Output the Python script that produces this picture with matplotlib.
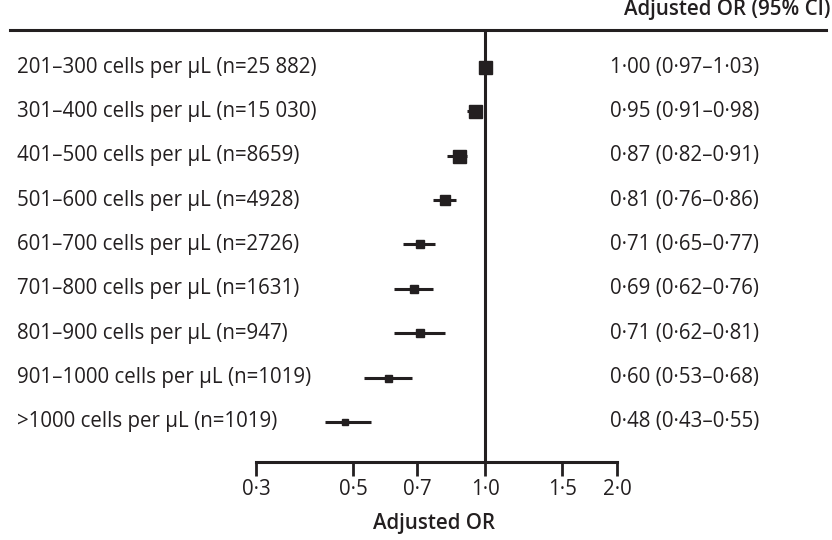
import numpy as np
import matplotlib.pyplot as plt
import matplotlib.ticker as mticker
from matplotlib.transforms import blended_transform_factory

# data
groups = ["201–300 cells per µL (n=25 882)",
          "301–400 cells per µL (n=15 030)",
          "401–500 cells per µL (n=8659)",
          "501–600 cells per µL (n=4928)",
          "601–700 cells per µL (n=2726)",
          "701–800 cells per µL (n=1631)",
          "801–900 cells per µL (n=947)",
          "901–1000 cells per µL (n=1019)",
          ">1000 cells per µL (n=1019)"]
or_est = [1.00, 0.95, 0.87, 0.81, 0.71, 0.69, 0.71, 0.60, 0.48]
ci_low = [0.97, 0.91, 0.82, 0.76, 0.65, 0.62, 0.62, 0.53, 0.43]
ci_high = [1.03, 0.98, 0.91, 0.86, 0.77, 0.76, 0.81, 0.68, 0.55]
box_size = [13, 13, 13, 10, 8, 8, 8, 7, 6]   # marker size in px, rough reading of the weights
tick_vals = [0.3, 0.5, 0.7, 1.0, 1.5, 2.0]
tick_text = ["0·3", "0·5", "0·7", "1·0", "1·5", "2·0"]

ink = "#231f20"
fam = ["Open Sans", "DejaVu Sans"]
fs = 14.8
W, H = 832, 540
fig = plt.figure(figsize=(W / 100, H / 100), dpi=100)

# axes placed in pixels: x from 0.3 (256 px) to 2.0 (617 px), y from 30 px to 462 px
x0, x1, ytop, ybot = 256, 617, 30, 462
ax = fig.add_axes([x0 / W, 1 - ybot / H, (x1 - x0) / W, (ybot - ytop) / H])
ax.set_xscale("log")
ax.set_xlim(0.3, 2.0)
n = len(groups)
step = (422 - 67) / (n - 1)
ax.set_ylim(n - 1 + (ybot - 422) / step, -(67 - ytop) / step)

y = np.arange(n)
for i in range(n):
    ax.plot([ci_low[i], ci_high[i]], [y[i], y[i]], color=ink, lw=2.2, solid_capstyle="butt", zorder=3)
    ax.plot(or_est[i], y[i], marker="s", ms=box_size[i] * 0.72, color=ink, mec=ink, zorder=4)

ax.axvline(1.0, color=ink, lw=2.2, zorder=2)

for s in ["top", "right", "left"]:
    ax.spines[s].set_visible(False)
ax.spines["bottom"].set_linewidth(2.2)
ax.spines["bottom"].set_color(ink)
ax.set_yticks([])
ax.xaxis.set_major_locator(mticker.FixedLocator(tick_vals))
ax.xaxis.set_minor_locator(mticker.NullLocator())
ax.set_xticklabels(tick_text, fontfamily=fam, fontsize=fs, color=ink)
ax.tick_params(axis="x", direction="out", length=10, width=2, color=ink, pad=2)

# row labels and OR text
tr = blended_transform_factory(fig.transFigure, ax.transData)
for i in range(n):
    ax.text(17 / W, y[i], groups[i], transform=tr,
            ha="left", va="center", fontsize=fs, fontfamily=fam, color=ink)
    ax.text(610 / W, y[i], f"{or_est[i]:.2f} ({ci_low[i]:.2f}–{ci_high[i]:.2f})".replace(".", "·"),
            transform=tr, ha="left", va="center", fontsize=fs, fontfamily=fam, color=ink)

# header rule and header text
fig.add_artist(plt.Line2D([10 / W, 826 / W], [1 - 30 / H, 1 - 30 / H], color=ink, lw=2.2))
fig.text(831 / W, 1 - 15 / H, "Adjusted OR (95% CI)", ha="right", va="baseline",
         fontsize=fs, fontfamily=fam, color=ink, fontweight="semibold")
fig.text(434 / W, 1 - 523 / H, "Adjusted OR", ha="center", va="center",
         fontsize=fs, fontfamily=fam, color=ink, fontweight="semibold")

fig.savefig("out.png", dpi=100)
